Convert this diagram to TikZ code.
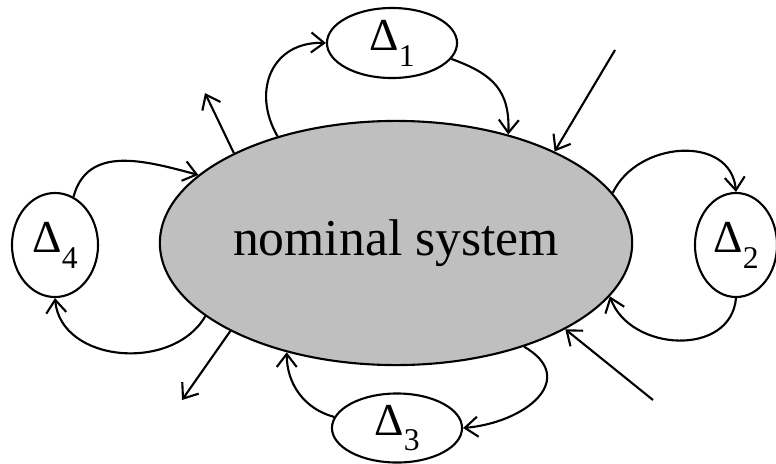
\documentclass[tikz,border=0pt]{standalone}
\usepackage{fontspec}
\setmainfont{Liberation Serif}
\usetikzlibrary{shapes.geometric,arrows.meta}
\newcommand{\dlab}[1]{\fontsize{13}{13}\selectfont Δ\raisebox{-4.5pt}{\fontsize{9}{9}\selectfont #1}}

\begin{document}
\begin{tikzpicture}[x=0.01cm,y=0.01cm,
  blob/.style={ellipse,draw,line width=0.6pt,inner sep=0pt},
  link/.style={line width=0.6pt,-{Straight Barb[length=1.3mm,width=2mm]}}]
  \useasboundingbox (0,0) rectangle (776,463);
  % nominal plant in the middle, uncertainty blocks round it
  \node[blob,fill=black!25,minimum width=4.72cm,minimum height=2.44cm,
        font=\fontsize{14.7}{16}\selectfont] (main) at (396,220) {nominal system};
  \node[blob,minimum width=1.3cm,minimum height=0.7cm] (d1) at (392,420) {\dlab{1}};
  \node[blob,minimum width=0.82cm,minimum height=1.04cm] (d2) at (736,218) {\dlab{2}};
  \node[blob,minimum width=1.3cm,minimum height=0.69cm] (d3) at (397,35) {\dlab{3}};
  \node[blob,minimum width=0.86cm,minimum height=1.04cm] (d4) at (55,218) {\dlab{4}};
  % feedback loops
  \draw[link] (main.138) to[out=120,in=178,looseness=1.3] (d1.west);
  \draw[link] (d1.-15) to[out=-20,in=88,looseness=1.2] (main.44);
  \draw[link] (main.13) to[out=65,in=95,looseness=1.2] (d2.north);
  \draw[link] (d2.south) to[out=-95,in=-70,looseness=1.2] (main.-14);
  \draw[link] (main.-39) to[out=-30,in=5,looseness=1.6] (d3.east);
  \draw[link] (d3.170) to[out=165,in=-90] (main.-135);
  \draw[link] (d4.69) to[out=75,in=165,looseness=1.1] (main.161);
  \draw[link] (main.201) to[out=-120,in=-85,looseness=1.1] (d4.south);
  % external inputs and outputs
  \coordinate (o1) at (205,370); \coordinate (o2) at (182,63);
  \coordinate (i1) at (615,413); \coordinate (i2) at (653,63);
  \foreach \a/\p in {151/o1,208/o2} \draw[link] (main.\a) -- (\p);
  \foreach \p/\a in {i1/30,i2/-27} \draw[link] (\p) -- (main.\a);
\end{tikzpicture}
\end{document}
